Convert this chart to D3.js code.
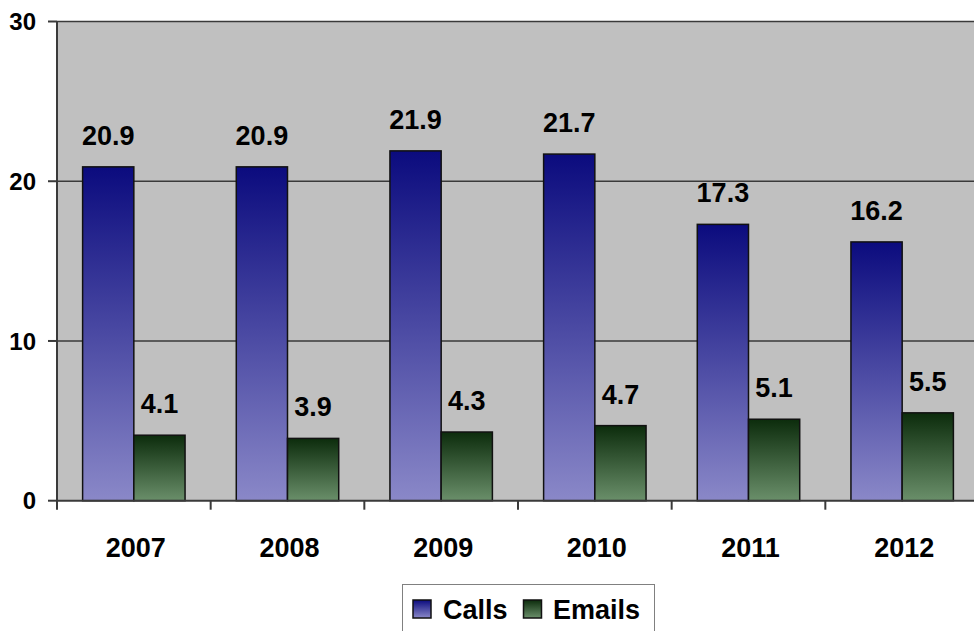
<!DOCTYPE html>
<html>
<head>
<style>
  body {
    margin: 0;
    background-color: #ffffff;
  }

  text {
    font-family: "Liberation Sans", Arial, sans-serif;
    font-weight: bold;
    fill: #000000;
  }
</style>
<script src="https://d3js.org/d3.v7.min.js"></script>
</head>
<body>
<script>
  const years = ['2007', '2008', '2009', '2010', '2011', '2012'];
  const seriesNames = ['Calls', 'Emails'];
  const calls = [20.9, 20.9, 21.9, 21.7, 17.3, 16.2];
  const emails = [4.1, 3.9, 4.3, 4.7, 5.1, 5.5];
  const yTicks = [0, 10, 20, 30];

  const colors = {
    Calls: { top: '#0b0b7e', bottom: '#8a88c8' },
    Emails: { top: '#0c2c0c', bottom: '#6a8f6a' },
  };

  const width = 974;
  const height = 631;
  const plot = { left: 57, top: 21.5, bottom: 500.7, right: 979 };

  const svg = d3.select('body')
    .append('svg')
    .attr('width', width)
    .attr('height', height);

  const defs = svg.append('defs');
  seriesNames.forEach((name) => {
    const grad = defs.append('linearGradient')
      .attr('id', 'grad-' + name)
      .attr('x1', 0).attr('y1', 0)
      .attr('x2', 0).attr('y2', 1);
    grad.append('stop').attr('offset', '0%').attr('stop-color', colors[name].top);
    grad.append('stop').attr('offset', '100%').attr('stop-color', colors[name].bottom);
  });

  const x = d3.scaleBand()
    .domain(years)
    .range([plot.left, plot.right])
    .padding(0);

  const xInner = d3.scaleBand()
    .domain(seriesNames)
    .range([0, x.bandwidth()])
    .paddingInner(0)
    .paddingOuter(0.5);

  const y = d3.scaleLinear()
    .domain([0, 30])
    .range([plot.bottom, plot.top]);

  // plot background
  svg.append('rect')
    .attr('x', plot.left)
    .attr('y', plot.top)
    .attr('width', plot.right - plot.left)
    .attr('height', plot.bottom - plot.top)
    .attr('fill', '#c0c0c0');

  // gridlines
  svg.append('g')
    .selectAll('line')
    .data(yTicks.filter(d => d > 0))
    .join('line')
    .attr('x1', plot.left)
    .attr('x2', plot.right)
    .attr('y1', d => y(d))
    .attr('y2', d => y(d))
    .attr('stroke', '#3a3a3a')
    .attr('stroke-width', 1.6);

  // bars
  const rows = years.map((year, i) => ({
    year,
    values: [
      { name: 'Calls', value: calls[i] },
      { name: 'Emails', value: emails[i] },
    ],
  }));

  const groups = svg.append('g')
    .selectAll('g')
    .data(rows)
    .join('g')
    .attr('transform', d => `translate(${x(d.year)},0)`);

  groups.selectAll('rect')
    .data(d => d.values)
    .join('rect')
    .attr('x', d => xInner(d.name))
    .attr('y', d => y(d.value))
    .attr('width', xInner.bandwidth())
    .attr('height', d => y(0) - y(d.value))
    .attr('fill', d => `url(#grad-${d.name})`)
    .attr('stroke', '#111111')
    .attr('stroke-width', 1.5);

  groups.selectAll('text')
    .data(d => d.values)
    .join('text')
    .attr('x', d => xInner(d.name) + xInner.bandwidth() / 2)
    .attr('y', d => y(d.value) - 22)
    .attr('text-anchor', 'middle')
    .style('font-size', '27px')
    .text(d => d.value.toFixed(1));

  // axes lines
  svg.append('line')
    .attr('x1', plot.left).attr('x2', plot.right)
    .attr('y1', plot.bottom).attr('y2', plot.bottom)
    .attr('stroke', '#3a3a3a').attr('stroke-width', 2);

  svg.append('line')
    .attr('x1', plot.left).attr('x2', plot.left)
    .attr('y1', plot.top).attr('y2', plot.bottom + 9)
    .attr('stroke', '#3a3a3a').attr('stroke-width', 2);

  // y ticks and labels
  const yAxis = svg.append('g');
  yAxis.selectAll('line')
    .data(yTicks)
    .join('line')
    .attr('x1', plot.left - 9)
    .attr('x2', plot.left)
    .attr('y1', d => y(d))
    .attr('y2', d => y(d))
    .attr('stroke', '#3a3a3a')
    .attr('stroke-width', 2);

  yAxis.selectAll('text')
    .data(yTicks)
    .join('text')
    .attr('x', 36)
    .attr('y', d => y(d))
    .attr('dy', '0.36em')
    .attr('text-anchor', 'end')
    .style('font-size', '24px')
    .text(d => d);

  // x ticks at category boundaries
  svg.append('g')
    .selectAll('line')
    .data(years.slice(1))
    .join('line')
    .attr('x1', d => x(d))
    .attr('x2', d => x(d))
    .attr('y1', plot.bottom)
    .attr('y2', plot.bottom + 9)
    .attr('stroke', '#3a3a3a')
    .attr('stroke-width', 2);

  svg.append('g')
    .selectAll('text')
    .data(years)
    .join('text')
    .attr('x', d => x(d) + x.bandwidth() / 2 + 2)
    .attr('y', 557)
    .attr('text-anchor', 'middle')
    .style('font-size', '27px')
    .text(d => d);

  // legend
  const legend = svg.append('g');
  legend.append('rect')
    .attr('x', 402.5)
    .attr('y', 584.5)
    .attr('width', 252)
    .attr('height', 60)
    .attr('fill', '#ffffff')
    .attr('stroke', '#808080')
    .attr('stroke-width', 1);

  const legendItems = [
    { name: 'Calls', sx: 413, tx: 443 },
    { name: 'Emails', sx: 523.5, tx: 553 },
  ];

  legendItems.forEach((item) => {
    legend.append('rect')
      .attr('x', item.sx)
      .attr('y', 600)
      .attr('width', 18)
      .attr('height', 18)
      .attr('fill', `url(#grad-${item.name})`)
      .attr('stroke', '#111111')
      .attr('stroke-width', 1.5);
    legend.append('text')
      .attr('x', item.tx)
      .attr('y', 618.5)
      .style('font-size', '27px')
      .text(item.name);
  });
</script>
</body>
</html>
